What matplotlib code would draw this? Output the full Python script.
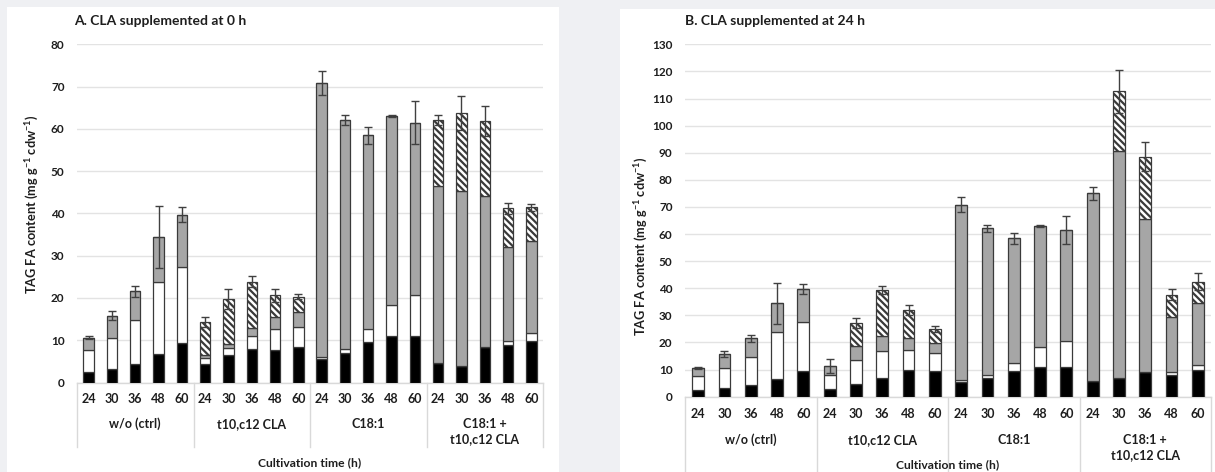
import matplotlib
matplotlib.use("Agg")
import matplotlib.pyplot as plt
from matplotlib.patches import Rectangle
import matplotlib.transforms as mtransforms
import numpy as np

plt.rcParams['font.family'] = ['Lato', 'DejaVu Sans']
plt.rcParams['mathtext.fontset'] = 'custom'
plt.rcParams['mathtext.bf'] = 'Lato:bold'
plt.rcParams['mathtext.rm'] = 'Lato:bold'
plt.rcParams['mathtext.default'] = 'bf'
plt.rcParams['hatch.linewidth'] = 1.6
plt.rcParams['hatch.color'] = 'black'

# ---------------- data ----------------
times = ["24", "30", "36", "48", "60"]
groups = ["w/o (ctrl)", "t10,c12 CLA", "C18:1", "C18:1 +\nt10,c12 CLA"]

# Panel A: CLA supplemented at 0 h (segment heights, 4 groups x 5 times)
a_black = [2.6, 3.2, 4.4, 6.7, 9.3,   4.4, 6.4, 7.9, 7.6, 8.5,
           5.5, 6.9, 9.6, 11.1, 11.1, 4.7, 3.9, 8.5, 8.8, 9.9]
a_white = [5.0, 7.4, 10.3, 17.0, 18.1, 1.3, 1.7, 3.1, 5.0, 4.7,
           0.5, 1.1, 3.0, 7.3, 9.5,    0.0, 0.0, 0.0, 1.0, 1.8]
a_gray = [3.0, 5.2, 6.9, 10.7, 12.3,  0.8, 1.1, 2.0, 3.0, 3.4,
          64.8, 54.1, 45.9, 44.6, 40.9, 41.7, 41.4, 35.5, 22.2, 21.7]
a_hatch = [0, 0, 0, 0, 0,  7.8, 10.5, 10.8, 5.0, 3.7,
           0, 0, 0, 0, 0,  15.7, 18.4, 17.8, 9.2, 8.0]
a_err = [0.3, 1.0, 1.3, 7.4, 1.8,  1.1, 2.4, 1.3, 1.5, 0.6,
         2.8, 1.2, 2.0, 0.3, 5.2,  1.1, 4.0, 3.5, 1.3, 0.9]

# Panel B: CLA supplemented at 24 h
b_black = [2.6, 3.2, 4.4, 6.7, 9.3,   3.0, 4.8, 6.9, 10.0, 9.6,
           5.5, 6.9, 9.6, 11.1, 11.1, 5.9, 7.0, 9.2, 8.1, 9.8]
b_white = [5.0, 7.4, 10.3, 17.0, 18.1, 5.0, 8.6, 10.1, 7.3, 6.4,
           0.5, 1.1, 3.0, 7.3, 9.5,    0.0, 0.0, 0.0, 1.0, 1.9]
b_gray = [3.0, 5.2, 6.9, 10.7, 12.3,  3.3, 5.2, 5.5, 4.2, 3.7,
          64.8, 54.1, 45.9, 44.6, 40.9, 69.1, 83.6, 56.4, 20.4, 23.0]
b_hatch = [0, 0, 0, 0, 0,  0.0, 8.6, 16.9, 10.5, 5.4,
           0, 0, 0, 0, 0,  0.0, 22.1, 23.0, 8.1, 7.7]
b_err = [0.3, 1.0, 1.3, 7.4, 1.8,  2.6, 2.0, 1.6, 1.7, 1.1,
         2.8, 1.2, 2.0, 0.3, 5.2,  2.5, 8.0, 5.3, 2.0, 3.1]

# ---------------- figure ----------------
W, H = 1215, 472
fig = plt.figure(figsize=(W / 100, H / 100), dpi=100)
fig.patch.set_facecolor('#eff0f3')

def px_rect(x0, y0, x1, y1):
    # pixel coords from top-left -> figure fraction rect
    return [x0 / W, 1 - y1 / H, (x1 - x0) / W, (y1 - y0) / H]

# white panels
for (x0, y0, x1, y1) in [(7, 7, 559, 472), (620, 9, 1215, 472)]:
    fig.patches.append(Rectangle((x0 / W, 1 - y1 / H), (x1 - x0) / W, (y1 - y0) / H,
                                 transform=fig.transFigure, facecolor='white',
                                 edgecolor='none', zorder=-10))

EDGE = '#3a3a3a'
GRID = '#e3e3e3'
SEP = '#d9d9d9'
TXT = '#1e1e1e'

def draw_panel(rect_px, black, white, gray, hatch, err, ymax, title, title_px,
               ylab_pos, offs):
    ax = fig.add_axes(px_rect(*rect_px))
    ax.set_zorder(1)
    ax.set_facecolor('none')
    n = len(black)
    x = np.arange(n)
    bw = 0.45
    black = np.array(black); white = np.array(white)
    gray = np.array(gray); hatch = np.array(hatch)
    ax.bar(x, black, bw, color='black', edgecolor=EDGE, linewidth=0.9, zorder=3)
    ax.bar(x, white, bw, bottom=black, color='white', edgecolor=EDGE, linewidth=0.9, zorder=3)
    ax.bar(x, gray, bw, bottom=black + white, color='#a6a6a6', edgecolor=EDGE,
           linewidth=0.9, zorder=3)
    ax.bar(x, hatch, bw, bottom=black + white + gray, color='white', edgecolor=EDGE,
           linewidth=0.9, hatch='\\\\\\\\\\', zorder=3)
    total = black + white + gray + hatch
    ax.errorbar(x, total, yerr=err, fmt='none', ecolor='#404040', elinewidth=1.0,
                capsize=3, capthick=1.0, zorder=4)

    ax.set_xlim(-0.5, n - 0.5)
    ax.set_ylim(0, ymax)
    ax.set_yticks(np.arange(0, ymax + 1, 10))
    ax.yaxis.grid(True, color=GRID, linewidth=1.0, zorder=0)
    ax.set_axisbelow(True)
    for s in ['top', 'right', 'left']:
        ax.spines[s].set_visible(False)
    ax.spines['bottom'].set_color(SEP)
    ax.spines['bottom'].set_linewidth(1.0)
    ax.tick_params(axis='y', length=0, pad=9, labelsize=8.5, labelcolor=TXT)
    for lab in ax.get_yticklabels():
        lab.set_fontweight('bold')
    ax.set_xticks([])

    tick_off, g1_off, g2_off, xl_off, sep_off = offs
    blend = mtransforms.blended_transform_factory(ax.transData, ax.transAxes)
    for i in range(n):
        ax.annotate(times[i % 5], xy=(i, 0), xycoords=blend, xytext=(0, -tick_off),
                    textcoords='offset pixels', ha='center', va='center',
                    fontsize=9, fontweight='bold', color=TXT, annotation_clip=False)
    for g, name in enumerate(groups):
        lines = name.split('\n')
        for k, ln in enumerate(lines):
            ax.annotate(ln, xy=(g * 5 + 2, 0), xycoords=blend,
                        xytext=(0, -(g1_off if k == 0 else g2_off)),
                        textcoords='offset pixels', ha='center', va='center',
                        fontsize=9, fontweight='bold', color=TXT,
                        annotation_clip=False)
    # group separators
    axh = rect_px[3] - rect_px[1]
    for sx in [-0.5, 4.5, 9.5, 14.5, 19.5]:
        ax.plot([sx, sx], [0, -sep_off / axh], transform=blend, color=SEP,
                linewidth=1.0, clip_on=False, zorder=1)
    ax.annotate('Cultivation time (h)', xy=(0.5, 0), xycoords='axes fraction',
                xytext=(0, -xl_off), textcoords='offset pixels', ha='center',
                va='center', fontsize=8.7, fontweight='bold', color=TXT,
                annotation_clip=False)
    ax.set_ylabel(r'TAG FA content (mg g$^{-1}$ cdw$^{-1}$)', fontsize=9.2,
                  fontweight='bold', color=TXT)
    ax.yaxis.set_label_coords(*ylab_pos)
    fig.text(title_px[0] / W, 1 - title_px[1] / H, title, fontsize=10,
             fontweight='bold', ha='left', va='center', color=TXT)
    return ax

draw_panel((77, 44.3, 543, 382.5), a_black, a_white, a_gray, a_hatch, a_err, 80,
           'A. CLA supplemented at 0 h', (74, 20.7),
           (-35.5 / 466, 0.528), (16.5, 41.5, 57, 80, 64.5))
draw_panel((685, 44.3, 1211, 396.7), b_black, b_white, b_gray, b_hatch, b_err, 130,
           'B. CLA supplemented at 24 h', (685, 20.7),
           (-35 / 526, 0.428), (17, 43, 58, 68, 80))

fig.savefig('out.png', dpi=100, facecolor=fig.get_facecolor())
